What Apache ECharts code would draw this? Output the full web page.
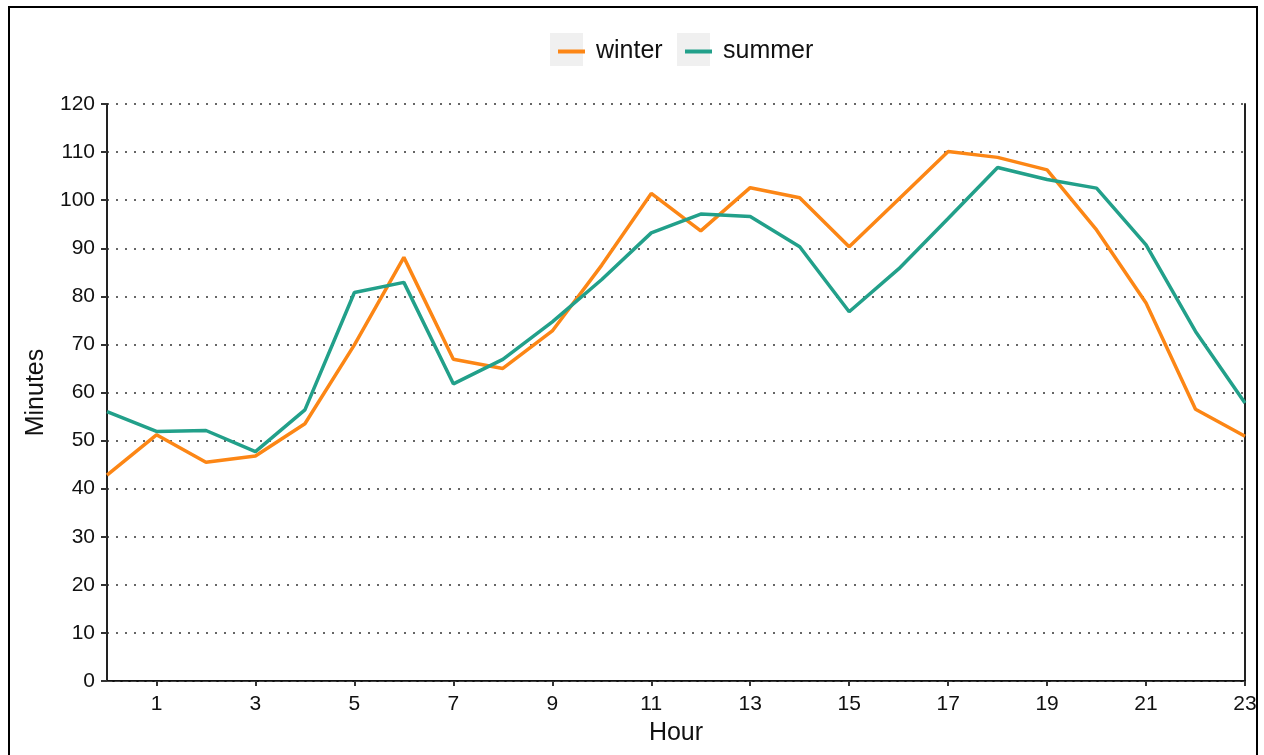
<!DOCTYPE html>
<html>
<head>
<meta charset="utf-8">
<script src="https://cdn.jsdelivr.net/npm/echarts@6/dist/echarts.min.js"></script>
<style>
  body { margin: 0; background: #fff; }
  #chart { position: absolute; left: 0; top: 0; width: 1264px; height: 755px; }
  #frame { position: absolute; left: 8px; top: 6px; width: 1246px; height: 800px; border: 2px solid #000; pointer-events: none; }
</style>
</head>
<body>
<div id="chart"></div>
<div id="frame"></div>
<script>
// hour of day
let hours = ['0','1','2','3','4','5','6','7','8','9','10','11','12','13','14','15','16','17','18','19','20','21','22','23'];

// minutes
let winter = [42.8, 51.2, 45.5, 46.8, 53.5, 69.9, 88.1, 66.9, 65.0, 72.8, 86.5, 101.4,
              93.6, 102.6, 100.5, 90.3, 100.2, 110.1, 108.9, 106.3, 93.8, 78.6, 56.5, 50.9];
let summer = [56.0, 51.9, 52.1, 47.7, 56.4, 80.8, 82.9, 61.8, 66.9, 74.7, 83.5, 93.2,
              97.1, 96.6, 90.3, 76.8, 85.7, 96.2, 106.8, 104.3, 102.5, 90.7, 72.7, 57.8];

let font = "'Liberation Sans', Arial, sans-serif";
let oddOnly = function (i) { return i % 2 === 1; };

// one legend per series so each sits on its grey box
function legendAt(name, left) {
    return {
        data: [name],
        left: left,
        top: 34,
        icon: 'rect',
        itemWidth: 27,
        itemHeight: 4,
        textStyle: { fontSize: 25, color: '#111', fontFamily: font, padding: [0, 0, 0, 6] }
    };
}

let myChart = echarts.init(document.getElementById('chart'));
let option = {
    animation: false,
    backgroundColor: '#fff',
    textStyle: { fontFamily: font },
    legend: [legendAt('winter', 553), legendAt('summer', 680)],
    graphic: [
        { type: 'rect', left: 550, top: 33, z: 0, shape: { width: 33, height: 33 }, style: { fill: '#f0f0f0' } },
        { type: 'rect', left: 677, top: 33, z: 0, shape: { width: 33, height: 33 }, style: { fill: '#f0f0f0' } }
    ],
    grid: { left: 107, right: 19, top: 104, bottom: 74 },
    xAxis: [
        {
            type: 'category',
            data: hours,
            boundaryGap: false,
            name: 'Hour',
            nameLocation: 'middle',
            nameGap: 40,
            nameTextStyle: { fontSize: 25, color: '#111', fontFamily: font },
            axisLine: { lineStyle: { color: '#111', width: 2 } },
            axisTick: { interval: oddOnly, length: 5, lineStyle: { color: '#333', width: 2 } },
            axisLabel: { interval: oddOnly, fontSize: 21, color: '#111', margin: 13, fontFamily: font },
            splitLine: { show: false }
        },
        {
            type: 'category',
            data: hours,
            boundaryGap: false,
            position: 'top',
            axisLine: { lineStyle: { color: '#444', width: 1, type: [5, 3] } },
            axisTick: { show: false },
            axisLabel: { show: false },
            splitLine: { show: false }
        }
    ],
    yAxis: [
        {
            type: 'value',
            min: 0,
            max: 120,
            interval: 10,
            name: 'Minutes',
            nameLocation: 'middle',
            nameGap: 58,
            nameTextStyle: { fontSize: 25, color: '#111', fontFamily: font },
            axisLine: { show: true, lineStyle: { color: '#222', width: 2 } },
            axisTick: { show: true, length: 6, lineStyle: { color: '#333', width: 2 } },
            axisLabel: { fontSize: 21, color: '#111', margin: 12, fontFamily: font },
            splitLine: { show: true, lineStyle: { color: '#666', width: 2, type: [2, 7] } }
        },
        {
            type: 'value',
            min: 0,
            max: 120,
            interval: 10,
            position: 'right',
            axisLine: { show: true, lineStyle: { color: '#222', width: 2 } },
            axisTick: { show: false },
            axisLabel: { show: false },
            splitLine: { show: false }
        }
    ],
    series: [
        {
            name: 'winter',
            type: 'line',
            data: winter,
            symbol: 'none',
            color: '#fc8615',
            lineStyle: { width: 3.5 }
        },
        {
            name: 'summer',
            type: 'line',
            data: summer,
            symbol: 'none',
            color: '#22a08a',
            lineStyle: { width: 3.5 }
        }
    ]
};
myChart.setOption(option);
</script>
</body>
</html>
